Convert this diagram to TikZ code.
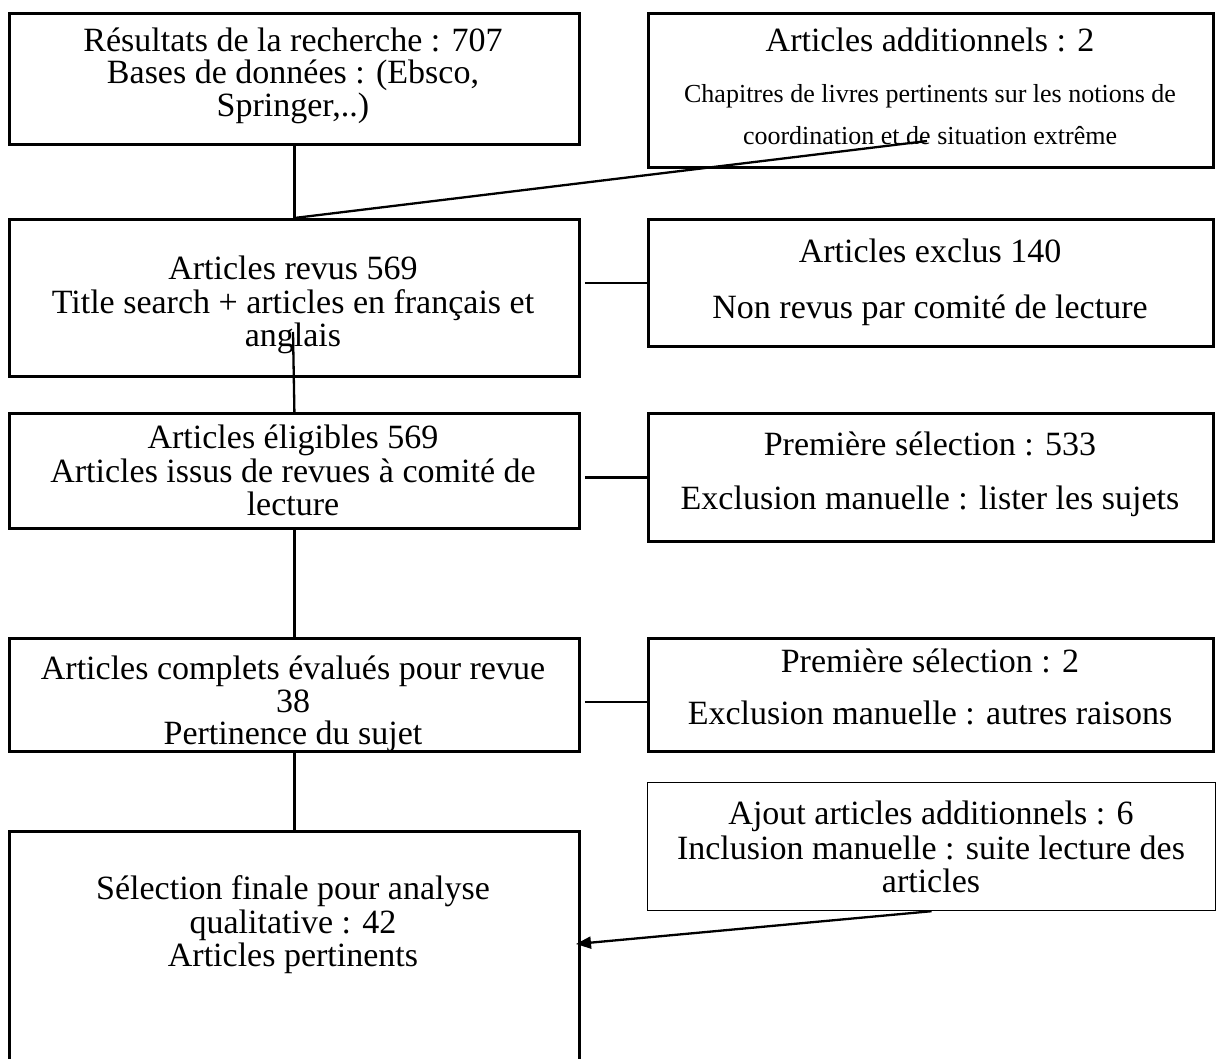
\documentclass[tikz,border=0pt]{standalone}
\usepackage{fontspec}
\setmainfont{Liberation Serif}
\usetikzlibrary{arrows.meta}
\begin{document}
\begin{tikzpicture}[x=1pt,y=-1pt,
  box/.style={draw, line width=2.8pt, rectangle, inner sep=0pt, anchor=north west},
  thinbox/.style={draw, line width=1.2pt, rectangle, inner sep=0pt, anchor=north west},
  txt/.style={anchor=base, inner sep=0pt, font=\fontsize{34}{36}\selectfont},
  small/.style={anchor=base, inner sep=0pt, font=\fontsize{26}{30}\selectfont},
  link/.style={line width=2.3pt},
]
\useasboundingbox (0,0) rectangle (1219,1059);
\clip (0,0) rectangle (1219,1059);
\fill[white] (0,0) rectangle (1219,1059);

% left column
\node[box, minimum width=570pt, minimum height=131pt] (A) at (8,12) {};
\node[txt] (a1) at (293,52) {Résultats de la recherche : 707};
\node[txt] (a2) at (293,84) {Bases de données : (Ebsco,};
\node[txt] (a3) at (293,117) {Springer,..)};

\node[box, minimum width=570pt, minimum height=157pt] (C) at (8,218) {};
\node[txt] (c1) at (293,280) {Articles revus 569};
\node[txt] (c2) at (293,314) {Title search + articles en français et};
\node[txt] (c3) at (293,347) {anglais};

\node[box, minimum width=570pt, minimum height=115pt] (E) at (8,412) {};
\node[txt] (e1) at (293,449) {Articles éligibles 569};
\node[txt] (e2) at (293,482) {Articles issus de revues à comité de};
\node[txt] (e3) at (293,515) {lecture};

\node[box, minimum width=570pt, minimum height=113pt] (G) at (8,637) {};
\begin{scope}
  \clip (G.north west) rectangle (G.south east);
  \node[txt] (g1) at (293,679) {Articles complets évalués pour revue};
  \node[txt] (g2) at (293,712) {38};
  \node[txt] (g3) at (293,744) {Pertinence du sujet};
\end{scope}

\node[box, minimum width=570pt, minimum height=300pt] (I) at (8,830) {};
\node[txt] (i1) at (293,899) {Sélection finale pour analyse};
\node[txt] (i2) at (293,933) {qualitative : 42};
\node[txt] (i3) at (293,966) {Articles pertinents};

% right column
\node[box, minimum width=565pt, minimum height=154pt] (B) at (647,12) {};
\node[txt] (b1) at (930,52) {Articles additionnels : 2};
\node[small] (b2) at (930,103) {Chapitres de livres pertinents sur les notions de};
\node[small] (b3) at (930,145) {coordination et de situation extrême};

\node[box, minimum width=565pt, minimum height=127pt] (D) at (647,218) {};
\node[txt] (d1) at (930,263) {Articles exclus 140};
\node[txt] (d2) at (930,319) {Non revus par comité de lecture};

\node[box, minimum width=565pt, minimum height=128pt] (F) at (647,412) {};
\node[txt] (f1) at (930,455) {Première sélection : 533};
\node[txt] (f2) at (930,509) {Exclusion manuelle : lister les sujets};

\node[box, minimum width=565pt, minimum height=113pt] (H) at (647,637) {};
\node[txt] (h1) at (930,672) {Première sélection : 2};
\node[txt] (h2) at (930,724) {Exclusion manuelle : autres raisons};

\node[thinbox, minimum width=568pt, minimum height=128pt] (J) at (647,782) {};
\node[txt] (j1) at (931,824) {Ajout articles additionnels : 6};
\node[txt] (j2) at (931,859) {Inclusion manuelle : suite lecture des};
\node[txt] (j3) at (931,892) {articles};

% connectors
\coordinate (bend) at (927,141);
\coordinate (cin) at (293,332);
\coordinate (tip) at (576,944);

\draw[link] (A.south) -- (C.north);
\draw[link] (bend) -- (C.north);
\draw[link] ([xshift=4pt]C.east |- D.west) -- (D.west);
\draw[link] (cin) -- (E.north);
\draw[link] ([xshift=4pt]E.east |- F.west) -- (F.west);
\draw[link] (E.south) -- (G.north);
\draw[link] ([xshift=4pt,yshift=-7pt]G.east |- H.west) -- ([yshift=-7pt]H.west);
\draw[link] (G.south) -- (I.north);
\draw[link, -{Triangle[length=15pt,width=12pt]}] (J.south) -- (tip);
\end{tikzpicture}
\end{document}
